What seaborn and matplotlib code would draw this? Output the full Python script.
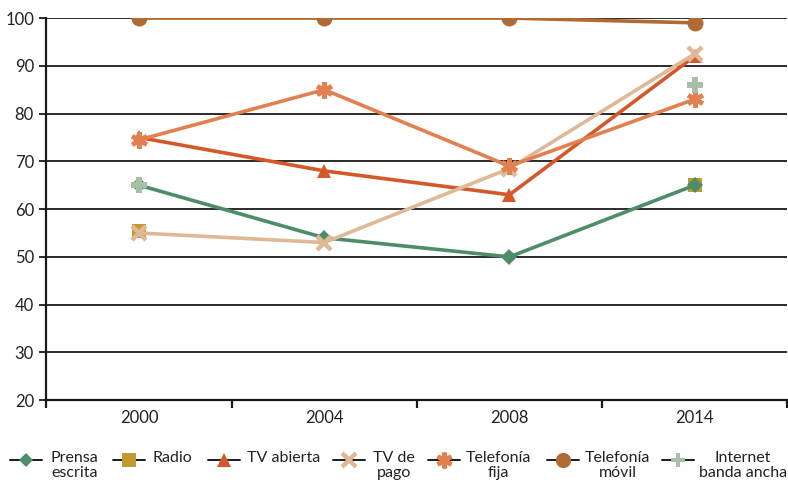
import numpy as np
import pandas as pd
import matplotlib
matplotlib.use("Agg")
import matplotlib.pyplot as plt
from matplotlib.lines import Line2D
import seaborn as sns

years = ["2000", "2004", "2008", "2014"]
prensa_escrita = [65, 54, 50, 65]
radio = [55.5, None, None, 65]
tv_abierta = [75, 68, 63, 92]
tv_de_pago = [55, 53, 68.5, 92.5]
telefonia_fija = [74.5, 85, 69, 83]
telefonia_movil = [100, 100, 100, 99]
internet_banda_ancha = [65, None, None, 86]

series = [
    # label, values, color, marker, size, edge width, connected
    ("Radio", radio, "#c39a2f", "s", 10, 0, False),
    ("Prensa\nescrita", prensa_escrita, "#4f8d68", "D", 8, 0, True),
    ("TV abierta", tv_abierta, "#d4582a", "^", 10, 0, True),
    ("TV de\npago", tv_de_pago, "#dfb898", "x", 10, 3.2, True),
    ("Telefonía\nfija", telefonia_fija, "#e2804f", (6, 2, 0), 12, 3.2, True),
    ("Telefonía\nmóvil", telefonia_movil, "#b06a34", "o", 11.5, 0, True),
    ("Internet\nbanda ancha", internet_banda_ancha, "#a5c0a6", "P", 11, 0, False),
]
legend_order = ["Prensa\nescrita", "Radio", "TV abierta", "TV de\npago",
                "Telefonía\nfija", "Telefonía\nmóvil", "Internet\nbanda ancha"]
# left pixel of each legend handle and of its label
legend_handle_x = [10, 113, 208, 333, 428, 547, 662]
legend_text_x = [51, 153, 247, 373, 466, 585, 699]

sns.set_theme(style="white")
plt.rcParams["font.family"] = ["Lato", "DejaVu Sans"]

W, H = 788, 488
fig = plt.figure(figsize=(W / 100, H / 100), dpi=100)
ax = fig.add_axes([0.059, 0.18, 0.94, 0.783])

x_pos = np.arange(len(years))
styles = {}
for label, vals, color, marker, ms, mew, connected in series:
    df = pd.DataFrame({"x": x_pos, "y": pd.array(vals, dtype="Float64")}).dropna()
    df["y"] = df["y"].astype(float)
    kw = dict(color=color, marker=marker, markersize=ms,
              markeredgecolor=color, markerfacecolor=color,
              markeredgewidth=mew, linewidth=2.6 if connected else 0,
              linestyle="-" if connected else "none")
    sns.lineplot(data=df, x="x", y="y", ax=ax, zorder=3, **kw)
    styles[label] = (color, marker, ms, mew)

ax.set_xlim(-0.5, len(years) - 0.5)
ax.set_ylim(20, 100)
ax.set_yticks(np.arange(20, 101, 10))
ax.set_xticks(x_pos)
ax.set_xticklabels(years)
ax.set_xticks(np.arange(-0.5, len(years), 1.0), minor=True)
ax.set_xlabel("")
ax.set_ylabel("")

for v in np.arange(30, 101, 10):
    ax.axhline(v, color="#1a1a1a", linewidth=1.3, zorder=1)

for side in ["top", "right"]:
    ax.spines[side].set_visible(False)
for side in ["left", "bottom"]:
    ax.spines[side].set_color("#1a1a1a")
    ax.spines[side].set_linewidth(1.6)

ax.tick_params(axis="y", which="major", direction="out", length=5, width=1.3,
               color="#1a1a1a", labelsize=12, pad=4, left=True)
ax.tick_params(axis="x", which="major", length=0, labelsize=12, pad=7)
ax.tick_params(axis="x", which="minor", direction="out", length=6, width=1.6,
               color="#1a1a1a", bottom=True)
for t in ax.get_xticklabels() + ax.get_yticklabels():
    t.set_color("#222222")

# legend row: black line with the series marker, label aligned on its first line
row_y = 1 - 460 / H
for label, hx, tx in zip(legend_order, legend_handle_x, legend_text_x):
    color, marker, ms, mew = styles[label]
    fig.add_artist(Line2D([hx / W, (hx + 32) / W], [row_y, row_y],
                          transform=fig.transFigure, color="#1a1a1a", linewidth=1.4))
    fig.add_artist(Line2D([(hx + 16) / W], [row_y], transform=fig.transFigure,
                          linestyle="none", marker=marker, markersize=ms * 0.95,
                          markerfacecolor=color, markeredgecolor=color,
                          markeredgewidth=mew))
    fig.text(tx / W, 1 - 451 / H, label, ha="left", va="top",
             multialignment="center", fontsize=11.5, color="#222222",
             linespacing=1.1)

fig.savefig("out.png", dpi=100)
